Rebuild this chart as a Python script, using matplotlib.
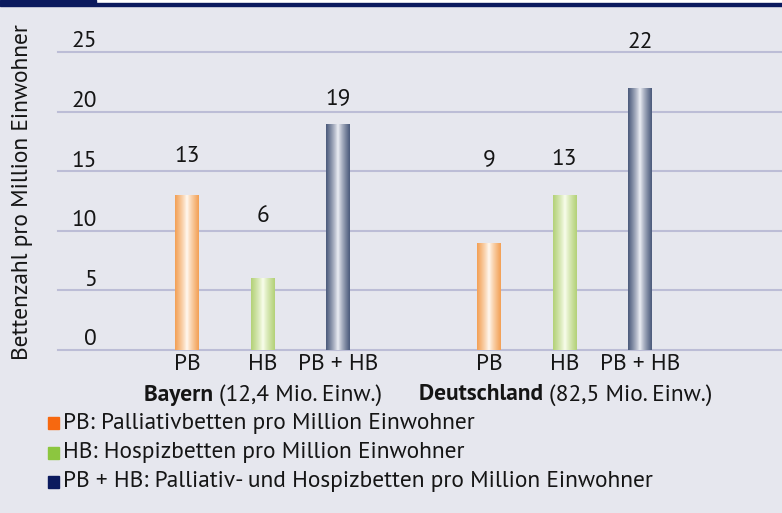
import numpy as np
import matplotlib
matplotlib.use("Agg")
import matplotlib.pyplot as plt
from matplotlib.patches import Rectangle
from matplotlib.colors import LinearSegmentedColormap
from matplotlib import font_manager

# ---- data ----
groups = ["Bayern", "Deutschland"]
group_notes = ["(12,4 Mio. Einw.)", "(82,5 Mio. Einw.)"]
categories = ["PB", "HB", "PB + HB"]
bayern = [13, 6, 19]
deutschland = [9, 13, 22]
label_heights_bayern = [16.2, 11.2, 21.1]
label_heights_de = [16.0, 16.0, 25.8]
yticks = [0, 5, 10, 15, 20, 25]
legend_labels = [
    "PB: Palliativbetten pro Million Einwohner",
    "HB: Hospizbetten pro Million Einwohner",
    "PB + HB: Palliativ- und Hospizbetten pro Million Einwohner",
]
ylabel = "Bettenzahl pro Million Einwohner"

# ---- style ----
names = {f.name for f in font_manager.fontManager.ttflist}
prefs = ["PT Sans", "Fira Sans Condensed", "Roboto Condensed"]
chosen = next((p for p in prefs if p in names), "DejaVu Sans")
fam = [chosen, "DejaVu Sans"]
plt.rcParams["font.family"] = fam
plt.rcParams["font.weight"] = 400

bg = "#e6e7ee"
grid_c = "#bcbdd6"
txt_c = "#151515"
edge_cols = ["#f3a055", "#b3d178", "#4b5a7b"]
mid_cols = ["#fff9f0", "#f8fdec", "#eceef4"]
legend_cols = ["#f7680f", "#8cc63f", "#0b1a5e"]
navy = "#0b1a5e"

W, H = 782, 513
fig = plt.figure(figsize=(W / 100, H / 100), dpi=100, facecolor=bg)
r = fig.canvas.get_renderer()

# calibrate font size against legend line widths in the reference
tw = 0
for lab in (legend_labels[0], legend_labels[2]):
    probe = fig.text(0, 0, lab, fontsize=14)
    tw += probe.get_window_extent(r).width
    probe.remove()
fs = 14 * (423 + 588) / tw

# header
fig.patches.append(Rectangle((0, 1 - 3 / H), 1, 3 / H, transform=fig.transFigure, color="white", zorder=0))
fig.patches.append(Rectangle((0, 1 - 3 / H), 96 / W, 3 / H, transform=fig.transFigure, color=navy, zorder=1))
fig.patches.append(Rectangle((0, 1 - 6 / H), 1, 3 / H, transform=fig.transFigure, color=navy, zorder=1))

left, right = 58, 782
top, bottom = 52, 350
ax = fig.add_axes([left / W, 1 - bottom / H, (right - left) / W, (bottom - top) / H])
ax.set_facecolor(bg)
for s in ax.spines.values():
    s.set_visible(False)

px = 75.5
x0 = 187
xlim = ((left - x0) / px, (right - x0) / px)
ax.set_xticks([])
ax.set_yticks([])

for t in yticks:
    ax.axhline(t, color=grid_c, lw=1.5, zorder=1, clip_on=False)
    ax.text((97 - x0) / px, t + 0.84, str(t), ha="right", va="center", fontsize=fs, color=txt_c)

pos_b = np.arange(3)
pos_d = np.arange(3) + 4
bw = 24 / px

grad = np.abs(np.linspace(-1, 1, 64)) ** 0.8
for vals, pos, lh in [(bayern, pos_b, label_heights_bayern), (deutschland, pos_d, label_heights_de)]:
    bars = ax.bar(pos, vals, width=bw, color="none", edgecolor="none", zorder=2)
    for i, b in enumerate(bars):
        cmap = LinearSegmentedColormap.from_list("g", [mid_cols[i], edge_cols[i]])
        im = ax.imshow(grad[None, :], cmap=cmap, aspect="auto",
                       extent=[b.get_x(), b.get_x() + b.get_width(), 0, b.get_height()],
                       zorder=3, interpolation="bicubic")
        im.set_clip_path(b)
        ax.text(pos[i], lh[i], str(vals[i]), ha="center", va="center", fontsize=fs, color=txt_c)
        ax.text(pos[i], -1.25, categories[i], ha="center", va="center", fontsize=fs, color=txt_c)
ax.set_xlim(*xlim)
ax.set_ylim(0, 25)

def two_part(xc, bold, reg, y):
    t1 = fig.text(0, y, bold + " ", fontsize=fs, fontweight="bold", va="center", ha="left", color=txt_c)
    t2 = fig.text(0, y, reg, fontsize=fs, va="center", ha="left", color=txt_c)
    w1 = t1.get_window_extent(r).width
    w2 = t2.get_window_extent(r).width
    start = xc * W - (w1 + w2) / 2
    t1.set_x(start / W)
    t2.set_x((start + w1) / W)

two_part(263 / W, groups[0], group_notes[0], 1 - 395 / H)
two_part(566 / W, groups[1], group_notes[1], 1 - 395 / H)

# legend
for i, (lab, c) in enumerate(zip(legend_labels, legend_cols)):
    yc = 423 + 29.5 * i
    fig.patches.append(Rectangle((48 / W, 1 - (yc + 6) / H), 11 / W, 12 / H, transform=fig.transFigure, color=c))
    fig.text(63 / W, 1 - yc / H, lab, fontsize=fs, va="center", ha="left", color=txt_c)

fig.text(23 / W, 1 - 192 / H, ylabel, rotation=90, ha="center", va="center", fontsize=fs, color=txt_c)

fig.savefig("out.png", dpi=100, facecolor=bg)
